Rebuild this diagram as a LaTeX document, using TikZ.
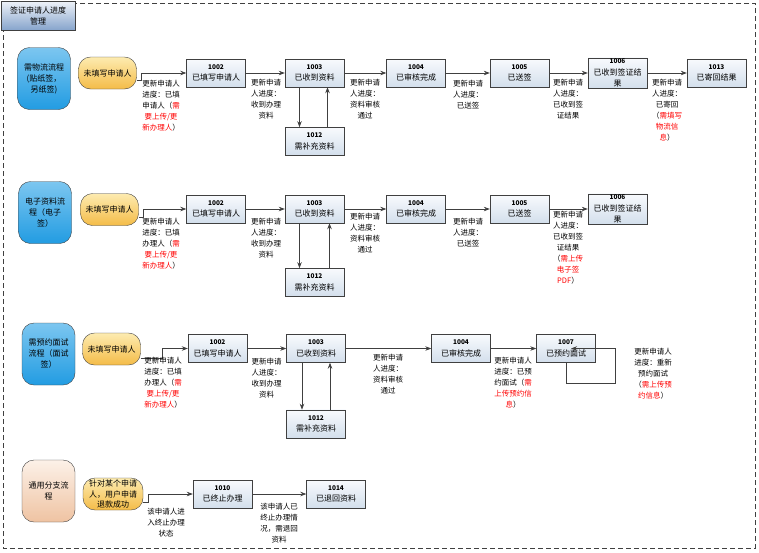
\documentclass[tikz,border=0pt]{standalone}
\usepackage{fontspec}
\setmainfont{Noto Sans CJK SC}
\usepackage{xcolor}
\usetikzlibrary{arrows.meta,positioning,calc}

\definecolor{linegray}{HTML}{404040}
\definecolor{boxtop}{HTML}{F8FAFD}
\definecolor{boxbot}{HTML}{D3DFEC}
\definecolor{cattop}{HTML}{7CC6F0}
\definecolor{catbot}{HTML}{229CE2}
\definecolor{starttop}{HTML}{FDEBB0}
\definecolor{startbot}{HTML}{F4BC48}
\definecolor{peachtop}{HTML}{FCF1E8}
\definecolor{peachbot}{HTML}{EFC3A2}
\definecolor{titletop}{HTML}{EEF2F8}
\definecolor{titlebot}{HTML}{86A4CC}

\newcommand{\stnum}[1]{{\fontsize{6.5}{7}\selectfont\bfseries #1}\\}
\newcommand{\need}[1]{\textcolor{red}{#1}}

\begin{document}
\begin{tikzpicture}[
  x=1pt, y=-1pt,
  font=\fontsize{7.5}{11}\selectfont,
  >={Stealth[length=6pt,width=4.5pt]},
  every node/.style={align=center},
  state/.style={draw=linegray, top color=boxtop, bottom color=boxbot, minimum width=59pt, minimum height=28pt, inner sep=1pt, font=\fontsize{8}{11.5}\selectfont},
  flowcat/.style={draw=linegray, rounded corners=12pt, minimum width=53pt, minimum height=62pt, inner sep=1pt, font=\fontsize{8}{11}\selectfont, top color=cattop, bottom color=catbot},
  start/.style={draw=linegray, rounded corners=12pt, minimum width=58pt, minimum height=32pt, inner sep=0pt, font=\fontsize{8}{10.5}\selectfont, top color=starttop, bottom color=startbot},
  note/.style={anchor=north, inner sep=0pt},
  flow/.style={->, draw=linegray, line width=0.7pt},
]
  \useasboundingbox (0,0) rectangle (759,552);
  \draw[linegray, line width=0.8pt, dash pattern=on 5pt off 3pt] (3,3) rectangle (755,548);
  \node[draw=linegray, anchor=north west, minimum width=74pt, minimum height=29pt, inner sep=1pt,
        top color=titletop, bottom color=titlebot, font=\fontsize{8}{11}\selectfont] (title) at (1,1) {签证申请人进度\\管理};

  % row 1: sticker visa, posted back
  \node[flowcat] (c1) at (44,78.5) {需物流流程\\(贴纸签，\\另纸签)};
  \node[start] (s1) at (107.5,73) {未填写申请人};
  \node[state] (a1) at (216,73) {\stnum{1002}已填写申请人};
  \node[state] (b1) at (314.5,73) {\stnum{1003}已收到资料};
  \node[state, below=40pt of b1] (r1) {\stnum{1012}需补充资料};
  \node[state] (d1) at (416,73) {\stnum{1004}已审核完成};
  \node[state] (e1) at (519.5,73) {\stnum{1005}已送签};
  \node[state] (f1) at (617.5,73) {\stnum{1006}已收到签证结\\果};
  \node[state] (g1) at (716.5,73) {\stnum{1013}已寄回结果};

  \draw[flow] ([yshift=-7pt]s1.east) -- ++(5,0) |- (a1);
  \draw[flow] (a1) -- (b1); \draw[flow] (b1) -- (d1); \draw[flow] (d1) -- (e1);
  \draw[flow] (e1) -- (f1); \draw[flow] (f1) -- (g1);
  \draw[flow] ([xshift=-15pt]b1.south) -- ([xshift=-15pt]r1.north);
  \draw[flow] ([xshift=13pt]r1.north) -- ([xshift=13pt]b1.south);

  \node[note] (t1a) at (161,80) {更新申请人\\进度：已填\\申请人（\need{需}\\\need{要上传/更}\\\need{新办理人}）};
  \node[note] (t1b) at (266,78.5) {更新申请\\人进度：\\收到办理\\资料};
  \node[note] (t1c) at (365,78.5) {更新申请\\人进度：\\资料审核\\通过};
  \node[note] (t1d) at (468,80) {更新申请\\人进度：\\已送签};
  \node[note] (t1e) at (568,78.5) {更新申请\\人进度：\\已收到签\\证结果};
  \node[note] (t1f) at (667,78.5) {更新申请\\人进度：\\已寄回\\（\need{需填写}\\\need{物流信}\\\need{息}）};

  % row 2: e-visa
  \node[flowcat] (c2) at (45,212.5) {电子资料流\\程（电子\\签）};
  \node[start] (s2) at (109.5,209.5) {未填写申请人};
  \node[state] (a2) at (216,209) {\stnum{1002}已填写申请人};
  \node[state] (b2) at (314.5,209) {\stnum{1003}已收到资料};
  \node[state, below=45pt of b2] (r2) {\stnum{1012}需补充资料};
  \node[state] (d2) at (416,209) {\stnum{1004}已审核完成};
  \node[state] (e2) at (519.5,209) {\stnum{1005}已送签};
  \node[state] (f2) at (617.5,209) {\stnum{1006}已收到签证结\\果};

  \draw[flow] ([yshift=-7.5pt]s2.east) -- ++(5,0) |- (a2);
  \draw[flow] (a2) -- (b2); \draw[flow] (b2) -- (d2); \draw[flow] (d2) -- (e2);
  \draw[flow] (e2) -- (f2);
  \draw[flow] ([xshift=-15pt]b2.south) -- ([xshift=-15pt]r2.north);
  \draw[flow] ([xshift=15pt]r2.north) -- ([xshift=15pt]b2.south);

  \node[note] (t2a) at (161,217.5) {更新申请人\\进度：已填\\办理人（\need{需}\\\need{要上传/更}\\\need{新办理人}）};
  \node[note] (t2b) at (266,217.5) {更新申请\\人进度：\\收到办理\\资料};
  \node[note] (t2c) at (365,212.5) {更新申请\\人进度：\\资料审核\\通过};
  \node[note] (t2d) at (468,218) {更新申请\\人进度：\\已送签};
  \node[note] (t2e) at (568,210.5) {更新申请\\人进度：\\已收到签\\证结果\\（\need{需上传}\\\need{电子签}\\\need{PDF}）};

  % row 3: interview
  \node[flowcat] (c3) at (48.5,354) {需预约面试\\流程（面试\\签）};
  \node[start] (s3) at (111.5,349) {未填写申请人};
  \node[state] (a3) at (217.5,348.5) {\stnum{1002}已填写申请人};
  \node[state] (b3) at (316,348.5) {\stnum{1003}已收到资料};
  \node[state, below=47pt of b3] (r3) {\stnum{1012}需补充资料};
  \node[state] (d3) at (461,348.5) {\stnum{1004}已审核完成};
  \node[state] (e3) at (566,348.5) {\stnum{1007}已预约面试};

  \draw[flow] ([yshift=-9pt]s3.east) -- ++(22,0) |- (a3);
  \draw[flow] (a3) -- (b3); \draw[flow] (b3) -- (d3); \draw[flow] (d3) -- (e3);
  \draw[flow] ([xshift=-14pt]b3.south) -- ([xshift=-14pt]r3.north);
  \draw[flow] ([xshift=14pt]r3.north) -- ([xshift=14pt]b3.south);
  \draw[flow] (e3.south) |- ++(49,21) |- ([xshift=5pt]e3.center);

  \node[note] (t3a) at (163,356.5) {更新申请人\\进度：已填\\办理人（\need{需}\\\need{要上传/更}\\\need{新办理人}）};
  \node[note] (t3b) at (266.5,357.5) {更新申请\\人进度：\\收到办理\\资料};
  \node[note] (t3c) at (388,353.5) {更新申请\\人进度：\\资料审核\\通过};
  \node[note] (t3d) at (513,356.5) {更新申请人\\进度：已预\\约面试（\need{需}\\\need{上传预约信}\\\need{息}）};
  \node[note] (t3e) at (653,347.5) {更新申请人\\进度：重新\\预约面试\\（\need{需上传预}\\\need{约信息}）};

  % row 4: common branch
  \node[flowcat, top color=peachtop, bottom color=peachbot] (c4) at (48.5,491) {通用分支流\\程};
  \node[start, minimum width=60pt] (s4) at (113,494) {针对某个申请\\人，用户申请\\退款成功};
  \node[state] (a4) at (222.5,494) {\stnum{1010}已终止办理};
  \node[state] (b4) at (336,494) {\stnum{1014}已退回资料};

  \draw[flow] ([yshift=-8pt]s4.east) -- ++(5,0) |- (a4);
  \draw[flow] (a4) -- (b4);

  \node[note] (t4a) at (166,507.5) {该申请人进\\入终止办理\\状态};
  \node[note] (t4b) at (279,502.5) {该申请人已\\终止办理情\\况，需退回\\资料};
\end{tikzpicture}
\end{document}
